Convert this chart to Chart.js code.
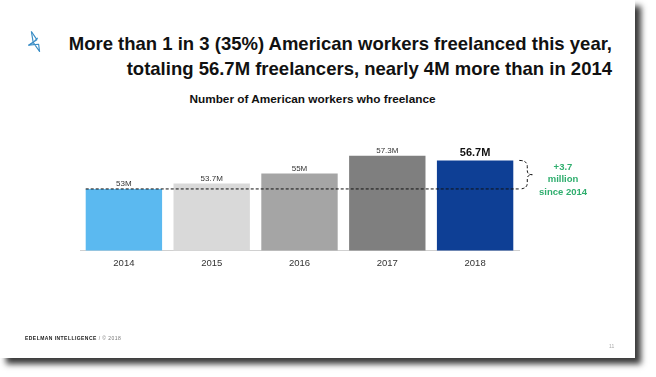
<!DOCTYPE html>
<html>
<head>
<meta charset="utf-8">
<script src="https://cdn.jsdelivr.net/npm/chart.js@4"></script>
<style>
  body { margin: 0; background: #fff; width: 656px; height: 377px; overflow: hidden; font-family: "Liberation Sans", Arial, sans-serif; }
  #slide { position: absolute; left: 0; top: 0; width: 635px; height: 358px; background: #fff;
           box-shadow: 6px 6px 6px #3a3a3a; }
  #title { position: absolute; right: 23px; top: 31px; text-align: right; font-weight: bold;
           font-size: 18.5px; line-height: 25px; color: #111; white-space: nowrap; }
  #subtitle { position: absolute; left: 0; width: 625px; top: 92px; text-align: center; font-weight: bold;
              font-size: 11.8px; color: #111; }
  #canvas_div { position: absolute; left: 0; top: 0; width: 635px; height: 358px; }
  #footer { position: absolute; left: 25px; top: 335px; font-size: 5px; letter-spacing: 0.45px; color: #222; }
  #footer b { font-weight: bold; }
  #footer span { color: #777; }
  #page { position: absolute; left: 609px; top: 343px; font-size: 5px; color: #aaa; }
  #logo { position: absolute; left: 25px; top: 29px; }
</style>
</head>
<body>
<div id="slide">
  <svg id="logo" width="20" height="25" viewBox="0 0 22 26">
    <polyline points="7,2 13,11 4,17 15,16 16,24 9,14 14,9" fill="none" stroke="#3b8ec6" stroke-width="1.3" stroke-linejoin="round"/>
    <polyline points="7,2 9,14 4,17" fill="none" stroke="#3b8ec6" stroke-width="1.3" stroke-linejoin="round"/>
  </svg>
  <div id="title">More than 1 in 3 (35%) American workers freelanced this year,<br>totaling 56.7M freelancers, nearly 4M more than in 2014</div>
  <div id="subtitle">Number of American workers who freelance</div>
  <div id="canvas_div"><canvas id="myChart"></canvas></div>
  <div id="footer"><b>EDELMAN INTELLIGENCE</b> <span>/ © 2018</span></div>
  <div id="page">11</div>
</div>
<script>
const years = ["2014", "2015", "2016", "2017", "2018"];
const freelancers = [53, 53.7, 55, 57.3, 56.7];
const valueLabels = ["53M", "53.7M", "55M", "57.3M", "56.7M"];
const barColors = ["#5bb9f0", "#d9d9d9", "#a5a5a5", "#7f7f7f", "#0e3f95"];
const baseYear = 53;
const gainText = ["+3.7", "million", "since 2014"];

const annotations = {
  id: "annotations",
  afterDatasetsDraw(chart) {
    const ctx = chart.ctx;
    const meta = chart.getDatasetMeta(0);
    const y = chart.scales.y;
    ctx.save();
    // value labels
    ctx.textAlign = "center";
    ctx.textBaseline = "bottom";
    meta.data.forEach((bar, i) => {
      const last = i === meta.data.length - 1;
      ctx.font = last ? "bold 11px 'Liberation Sans', Arial" : "8px 'Liberation Sans', Arial";
      ctx.fillStyle = last ? "#111" : "#333";
      ctx.fillText(valueLabels[i], bar.x, bar.y - (last ? 2 : 1));
    });
    // dashed line at 2014 level
    const yBase = y.getPixelForValue(baseYear);
    const yTop = y.getPixelForValue(freelancers[freelancers.length - 1]);
    const lastBar = meta.data[meta.data.length - 1];
    const xEnd = lastBar.x + lastBar.width / 2 + 6;
    ctx.setLineDash([3, 2]);
    ctx.strokeStyle = "#111";
    ctx.lineWidth = 1;
    ctx.beginPath();
    ctx.moveTo(meta.data[0].x - meta.data[0].width / 2, yBase);
    ctx.lineTo(xEnd, yBase);
    ctx.stroke();
    // brace
    const bx = xEnd;
    const mid = (yBase + yTop) / 2;
    ctx.beginPath();
    ctx.moveTo(bx, yTop);
    ctx.quadraticCurveTo(bx + 8, yTop, bx + 8, yTop + 6);
    ctx.lineTo(bx + 8, mid - 4);
    ctx.quadraticCurveTo(bx + 8, mid, bx + 13, mid);
    ctx.quadraticCurveTo(bx + 8, mid, bx + 8, mid + 4);
    ctx.lineTo(bx + 8, yBase - 6);
    ctx.quadraticCurveTo(bx + 8, yBase, bx, yBase);
    ctx.stroke();
    ctx.setLineDash([]);
    // green text
    ctx.fillStyle = "#2fae6e";
    ctx.font = "bold 9.5px 'Liberation Sans', Arial";
    ctx.textBaseline = "middle";
    gainText.forEach((t, i) => ctx.fillText(t, 563, 167 + i * 12.5));
    ctx.restore();
  }
};

const informations = {
  labels: years,
  datasets: [{
    label: "Number of American workers who freelance",
    data: freelancers,
    backgroundColor: barColors,
    borderWidth: 0,
    categoryPercentage: 0.87,
    barPercentage: 1.0
  }]
};

const config = {
  type: "bar",
  data: informations,
  options: {
    responsive: true,
    maintainAspectRatio: false,
    animation: false,
    layout: { padding: { left: 80, right: 116, top: 135, bottom: 82 } },
    plugins: {
      legend: { display: false },
      tooltip: { enabled: false }
    },
    scales: {
      x: {
        grid: { display: false, drawTicks: false },
        border: { color: "#d0d0d0" },
        ticks: { color: "#333", font: { family: "'Liberation Sans', Arial", size: 9.5 }, padding: 7 }
      },
      y: { display: false, min: 45, max: 60 }
    }
  },
  plugins: [annotations]
};

window.onload = () => {
  new Chart(document.getElementById("myChart"), config);
};
</script>
</body>
</html>
